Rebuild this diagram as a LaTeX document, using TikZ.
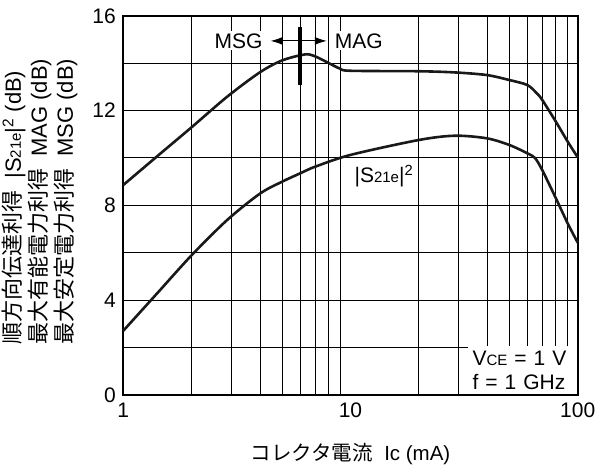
\documentclass[tikz,border=0pt]{standalone}
\usepackage{fontspec}
\setmainfont{Liberation Sans}
\newfontfamily\jp{Noto Sans CJK JP}
\usepackage{tikz}
\usetikzlibrary{positioning}
\usetikzlibrary{arrows.meta}
\newcommand{\sm}[1]{{\fontsize{15}{15}\selectfont #1}}

\begin{document}
\begin{tikzpicture}[
x=227.2pt, y=23.7pt,
gridline/.style ={line width=1pt, black},
plotframe/.style ={line width=2.2pt},
gaincurve/.style ={line width=2.6pt, black!90, smooth, line join=round},
ticklabel/.style ={font=\fontsize{21}{21}\selectfont},
tag/.style ={font=\fontsize{21}{24}\selectfont, fill=white, inner sep=2pt},
markarrow/.style ={line width=1pt, -{Latex[length=12pt,width=8pt]}, shorten >=6pt}]
\useasboundingbox (-123.3pt,-70pt) rectangle (474.7pt,395pt);
% grid
\foreach \d in {0,1}
  \foreach \k in {2,...,9}
    \draw[gridline] ({\d+log10(\k)},0) -- ({\d+log10(\k)},16);
\foreach \v in {2,4,...,14}
  \draw[gridline] (0,\v) -- (2,\v);
% white labels over the grid
\node[tag] (msg) at (0.507,14.94) {MSG};
\node[tag] (mag) at (1.037,14.94) {MAG};
\node[tag, anchor=south east, text width=100pt, inner sep=5pt, align=left] (cond) at (2,0) {V\sm{CE} = 1 V\\f = 1 GHz};
\draw[plotframe] (0,0) rectangle (2,16);
% ticks
\foreach \v in {0,4,...,16}
  \node[ticklabel, anchor=east] (y\v) at ([xshift=-4pt]0,\v) {\v};
\node[ticklabel, anchor=base] (x1) at ([yshift=-23pt]0,0) {1};
\node[ticklabel, anchor=base] (x10) at ([yshift=-23pt]1,0) {10};
\node[ticklabel, anchor=base] (x100) at ([yshift=-23pt]2,0) {100};
% axis labels
\node[font=\fontsize{20.5}{20.5}\selectfont, anchor=base] (xlab) at ([yshift=-43pt]x10.base) {{\jp コレクタ電流}\ \ Ic (mA)};
\node[font=\fontsize{22}{26}\selectfont, anchor=west, rotate=90, align=left, inner sep=0pt] (ylab) at (-83.3pt,50pt)
  {{\jp 順方向伝達利得}\ \ |S\sm{21e}|\textsuperscript{2} (dB)\\
   {\jp 最大有能電力利得}\ \ MAG (dB)\\
   {\jp 最大安定電力利得}\ \ MSG (dB)};
% MAG / MSG
\draw[gaincurve] plot coordinates {(0,8.86) (0.15,10.08) (0.301,11.3) (0.459,12.6) (0.602,13.62) (0.70,14.12)
  (0.80,14.37) (0.844,14.29) (0.901,14.02) (0.954,13.77) (1.0,13.68) (1.301,13.66) (1.46,13.61)
  (1.60,13.5) (1.699,13.29) (1.778,13.08) (1.82,12.73) (1.844,12.45) (1.904,11.53) (1.956,10.69) (2,10.03)};
% |S21e|^2
\draw[gaincurve] plot coordinates {(0,2.71) (0.15,4.3) (0.301,5.9) (0.459,7.4) (0.602,8.5) (0.699,9.0)
  (0.778,9.35) (0.844,9.63) (1.0,10.13) (1.301,10.76) (1.46,10.94) (1.60,10.83) (1.699,10.55)
  (1.778,10.2) (1.812,10.0) (1.844,9.49) (1.904,8.3) (1.956,7.24) (2,6.43)};
\node[font=\fontsize{21}{24}\selectfont] (s21) at (1.147,9.24) {|S\sm{21e}|\textsuperscript{2}};
% boundary marker
\coordinate (mktop) at ({log10(6)},15.54);
\coordinate (mkbot) at ({log10(6)},13.08);
\coordinate (mk) at ({log10(6)},14.94);
\draw[line width=4pt] (mktop) -- (mkbot);
\draw[markarrow] (mk) -- (msg);
\draw[markarrow] (mk) -- (mag);
\end{tikzpicture}
\end{document}
